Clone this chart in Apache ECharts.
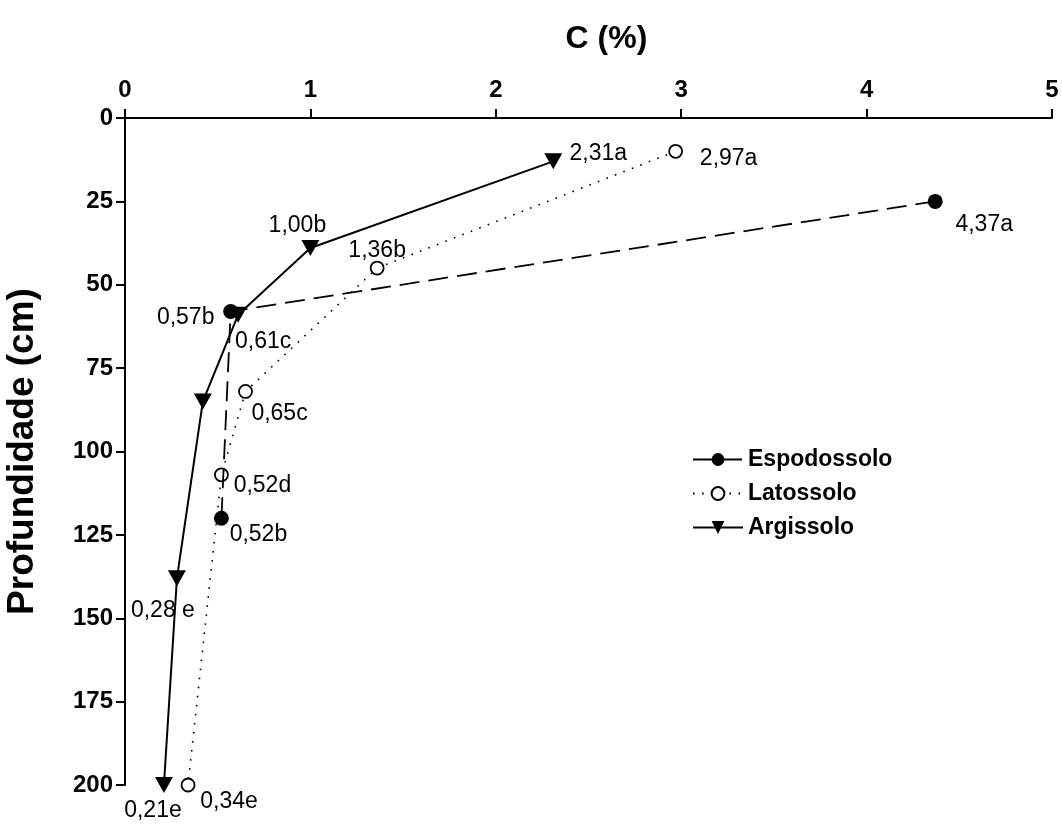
<!DOCTYPE html>
<html>
<head>
<meta charset="utf-8">
<script src="https://cdn.jsdelivr.net/npm/echarts@6/dist/echarts.min.js"></script>
<style>
html,body{margin:0;padding:0;background:#fff;}
#chart{width:1062px;height:826px;}
</style>
</head>
<body>
<div id="chart"></div>
<script>
// ---- data ----
const seriesNames = ['Espodossolo', 'Latossolo', 'Argissolo'];

const espC = [4.37, 0.57, 0.52];
const espDepth = [25, 58, 120];
const espLabels = ['4,37a', '0,57b', '0,52b'];

const latC = [2.97, 1.36, 0.65, 0.52, 0.34];
const latDepth = [10, 45, 82, 107, 200];
const latLabels = ['2,97a', '1,36b', '0,65c', '0,52d', '0,34e'];

const argC = [2.31, 1.00, 0.61, 0.42, 0.28, 0.21];
const argDepth = [13, 39, 59, 85, 138, 200];
const argLabels = ['2,31a', '1,00b', '0,61c', '', '0,28 e', '0,21e'];

const xTicks = [0, 1, 2, 3, 4, 5];
const yTicks = [0, 25, 50, 75, 100, 125, 150, 175, 200];

// ---- label placement (style, not data) ----
const espOffsets = [[49, 23], [-45, 6], [37, 16]];
const latOffsets = [[53, 7], [0, -17], [34, 22], [41, 11], [41, 17]];
const argOffsets = [[45, -8], [-13, -22], [25, 27], [0, 0], [-14, 32], [-11, 26]];

const FONT = 'Liberation Sans, Arial, sans-serif';

function build(cs, ds, labels, offsets) {
  return cs.map((c, i) => ({
    value: [c, ds[i]],
    label: {
      show: labels[i] !== '',
      formatter: labels[i],
      position: 'inside',
      offset: offsets[i]
    }
  }));
}

const labelBase = {
  color: '#000',
  fontFamily: FONT,
  fontSize: 23,
  fontWeight: 'normal'
};

const chart = echarts.init(document.getElementById('chart'), null, {renderer: 'canvas'});
chart.setOption({
  backgroundColor: '#fff',
  animation: false,
  grid: {left: 125, top: 118, right: 10, bottom: 41, containLabel: false, outerBoundsMode: 'none'},
  legend: {
    orient: 'vertical',
    left: 687,
    top: 443,
    itemWidth: 50,
    itemHeight: 16,
    itemGap: 11,
    textStyle: {fontFamily: FONT, fontSize: 23, fontWeight: 'bold', color: '#000'},
    data: seriesNames
  },
  xAxis: {
    type: 'value',
    position: 'top',
    min: 0, max: 5, interval: 1,
    name: 'C (%)',
    nameLocation: 'middle',
    nameGap: 63,
    nameTextStyle: {fontFamily: FONT, fontSize: 32, fontWeight: 'bold', color: '#000', padding: [0, 0, 0, 36]},
    axisLine: {show: true, lineStyle: {color: '#000', width: 2}},
    axisTick: {show: true, inside: false, length: 9, lineStyle: {color: '#000', width: 2}},
    axisLabel: {fontFamily: FONT, fontSize: 24, fontWeight: 'bold', color: '#000', margin: 16,
      formatter: v => xTicks.includes(v) ? String(v) : ''},
    splitLine: {show: false}
  },
  yAxis: {
    type: 'value',
    inverse: true,
    min: 0, max: 200, interval: 25,
    name: 'Profundidade (cm)',
    nameLocation: 'middle',
    nameGap: 84,
    nameTextStyle: {fontFamily: FONT, fontSize: 37, fontWeight: 'bold', color: '#000'},
    axisLine: {show: true, lineStyle: {color: '#000', width: 2}},
    axisTick: {show: true, inside: false, length: 9, lineStyle: {color: '#000', width: 2}},
    axisLabel: {fontFamily: FONT, fontSize: 24, fontWeight: 'bold', color: '#000', margin: 12,
      formatter: v => yTicks.includes(v) ? String(v) : ''},
    splitLine: {show: false}
  },
  series: [
    {
      name: seriesNames[0],
      type: 'line',
      data: build(espC, espDepth, espLabels, espOffsets),
      symbol: 'circle',
      symbolSize: 15,
      itemStyle: {color: '#000', borderColor: '#000', borderWidth: 0},
      lineStyle: {color: '#000', width: 1.8, type: [20, 9]},
      label: labelBase,
      z: 3
    },
    {
      name: seriesNames[1],
      type: 'line',
      data: build(latC, latDepth, latLabels, latOffsets),
      symbol: 'circle',
      symbolSize: 13,
      itemStyle: {color: '#fff', borderColor: '#000', borderWidth: 1.8},
      lineStyle: {color: '#000', width: 1.6, type: [1.6, 7.5]},
      label: labelBase,
      z: 2
    },
    {
      name: seriesNames[2],
      type: 'line',
      data: build(argC, argDepth, argLabels, argOffsets),
      symbol: 'triangle',
      symbolRotate: 180,
      symbolSize: [18, 16],
      itemStyle: {color: '#000', borderColor: '#000', borderWidth: 0},
      lineStyle: {color: '#000', width: 2},
      label: labelBase,
      z: 4
    }
  ]
});
</script>
</body>
</html>
